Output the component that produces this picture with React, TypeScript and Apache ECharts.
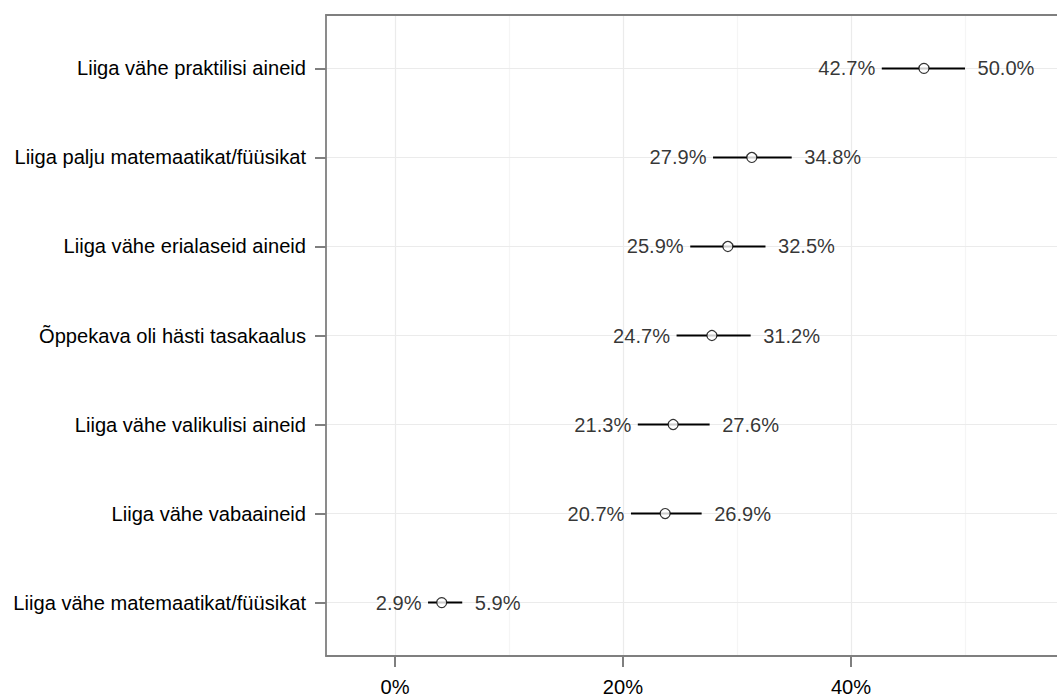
import React, { useEffect, useRef } from "react";
import * as echarts from "echarts";

const categories = [
  "Liiga vähe praktilisi aineid",
  "Liiga palju matemaatikat/füüsikat",
  "Liiga vähe erialaseid aineid",
  "Õppekava oli hästi tasakaalus",
  "Liiga vähe valikulisi aineid",
  "Liiga vähe vabaaineid",
  "Liiga vähe matemaatikat/füüsikat",
];
const estimate = [46.4, 31.3, 29.2, 27.8, 24.4, 23.7, 4.1];
const lower = [42.7, 27.9, 25.9, 24.7, 21.3, 20.7, 2.9];
const upper = [50.0, 34.8, 32.5, 31.2, 27.6, 26.9, 5.9];
const xMajorTicks = [0, 20, 40];
const xMinorTicks = [10, 30, 50];

const FONT = "Liberation Sans, Arial, sans-serif";
const FS = 20.1;

export default function App() {
  const ref = useRef<HTMLDivElement>(null);

  useEffect(() => {
    document.body.style.margin = "0";
    if (!ref.current) return;
    const chart = echarts.init(ref.current, undefined, { renderer: "svg" });
    const rows = categories.map((_, i) => i);
    const axisLineStyle = { color: "#7f7f7f", width: 1.8 };

    const option: any = {
      animation: false,
      backgroundColor: "#ffffff",
      textStyle: { fontFamily: FONT },
      grid: {
        left: 326,
        top: 15,
        bottom: 33,
        right: 0,
        show: false,
      },
      xAxis: [
        {
          type: "value",
          min: -6.05,
          max: 58.07,
          axisLine: { show: true, onZero: false, lineStyle: axisLineStyle },
          axisTick: {
            show: true,
            length: 11,
            customValues: xMajorTicks,
            lineStyle: { color: "#7f7f7f", width: 2 },
          },
          axisLabel: {
            customValues: xMajorTicks,
            formatter: (v: number) => `${v}%`,
            color: "#000",
            fontSize: FS,
            fontFamily: FONT,
            margin: 21,
          },
          splitLine: { show: false },
        },
        {
          type: "value",
          position: "top",
          min: -6.05,
          max: 58.07,
          axisLine: { show: true, onZero: false, lineStyle: axisLineStyle },
          axisTick: { show: false },
          axisLabel: { show: false },
          splitLine: { show: false },
        },
      ],
      yAxis: {
        type: "value",
        inverse: true,
        min: -0.6,
        max: 6.6,
        axisLine: { show: true, onZero: false, lineStyle: axisLineStyle },
        axisTick: {
          show: true,
          length: 11,
          customValues: rows,
          lineStyle: { color: "#7f7f7f", width: 2 },
        },
        axisLabel: {
          customValues: rows,
          formatter: (v: number) => categories[Math.round(v)] ?? "",
          color: "#000",
          fontSize: FS,
          fontFamily: FONT,
          margin: 20,
        },
        splitLine: { show: false },
      },
      series: [
        {
          type: "scatter",
          data: [],
          z: 0,
          silent: true,
          markLine: {
            z: 0,
            silent: true,
            symbol: "none",
            label: { show: false },
            animation: false,
            data: [
              ...xMinorTicks.map((v) => ({
                xAxis: v,
                lineStyle: { color: "#f5f5f5", width: 1.2, type: "solid" },
              })),
              ...xMajorTicks.map((v) => ({
                xAxis: v,
                lineStyle: { color: "#ebebeb", width: 1.2, type: "solid" },
              })),
              ...rows.map((v) => ({
                yAxis: v,
                lineStyle: { color: "#ebebeb", width: 1.2, type: "solid" },
              })),
            ],
          },
        },
        {
          type: "custom",
          z: 3,
          silent: true,
          data: rows.map((i) => [lower[i], upper[i], i]),
          encode: { x: [0, 1], y: 2 },
          renderItem: (params: any, api: any) => {
            const p1 = api.coord([api.value(0), api.value(2)]);
            const p2 = api.coord([api.value(1), api.value(2)]);
            return {
              type: "line",
              shape: { x1: p1[0], y1: p1[1], x2: p2[0], y2: p2[1] },
              style: { stroke: "#000", lineWidth: 2 },
            };
          },
        },
        {
          type: "scatter",
          z: 5,
          silent: true,
          data: rows.map((i) => [estimate[i], i]),
          symbol: "circle",
          symbolSize: 10,
          itemStyle: { color: "#ffffff", borderColor: "#000", borderWidth: 1.2 },
        },
        {
          type: "scatter",
          z: 4,
          silent: true,
          data: rows.map((i) => [lower[i], i]),
          symbolSize: 1,
          itemStyle: { color: "transparent" },
          label: {
            show: true,
            position: "left",
            distance: 6,
            formatter: (p: any) => `${p.value[0].toFixed(1)}%`,
            color: "#000",
            textBorderWidth: 0,
            fontSize: FS,
            fontFamily: FONT,
          },
        },
        {
          type: "scatter",
          z: 4,
          silent: true,
          data: rows.map((i) => [upper[i], i]),
          symbolSize: 1,
          itemStyle: { color: "transparent" },
          label: {
            show: true,
            position: "right",
            distance: 12,
            formatter: (p: any) => `${p.value[0].toFixed(1)}%`,
            color: "#000",
            textBorderWidth: 0,
            fontSize: FS,
            fontFamily: FONT,
          },
        },
      ],
    };

    chart.setOption(option);
    return () => chart.dispose();
  }, []);

  return <div ref={ref} style={{ width: 1057, height: 697 }} />;
}
